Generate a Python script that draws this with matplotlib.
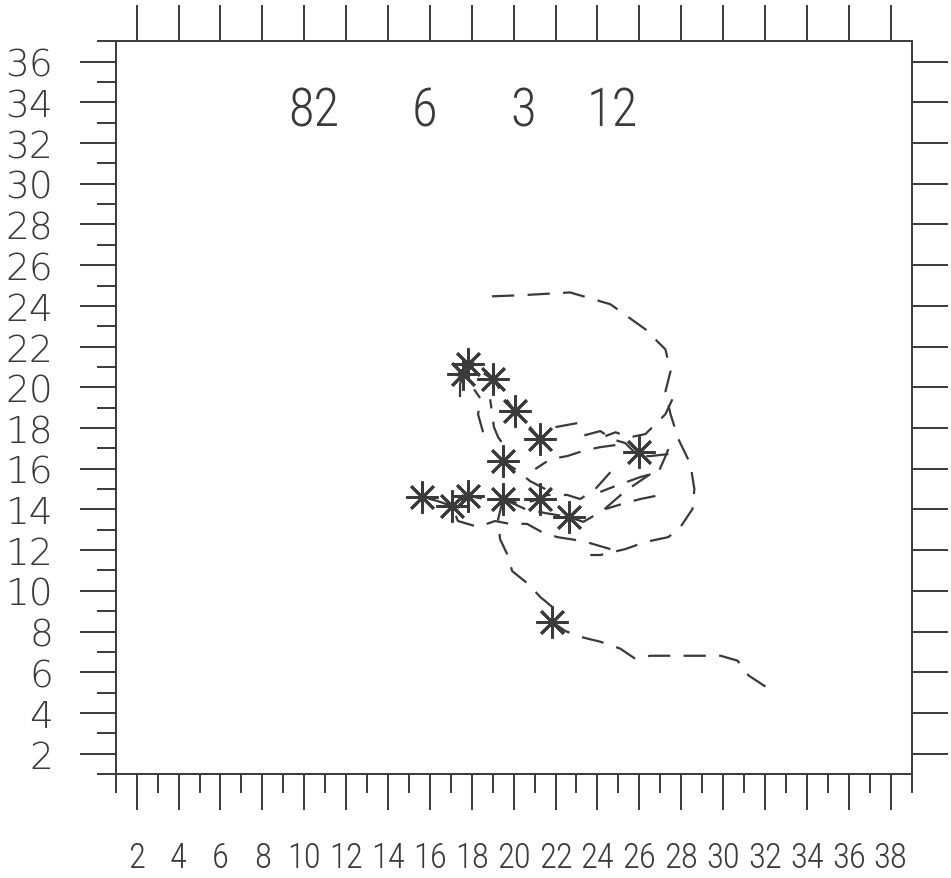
import matplotlib
matplotlib.use("Agg")
import matplotlib.pyplot as plt

# asterisk positions
ast_x = [17.84, 17.60, 19.03, 20.07, 21.27, 19.51, 25.97, 15.61, 17.04, 17.84, 19.51, 21.27, 22.62, 21.83]
ast_y = [21.13, 20.64, 20.39, 18.84, 17.45, 16.39, 16.80, 14.59, 14.18, 14.67, 14.51, 14.51, 13.61, 8.46]

# tracks
track1_x = [18.97, 20.31, 22.70, 24.62, 26.29, 27.25, 27.49, 27.25, 27.49, 27.87, 28.44, 28.63, 28.54, 27.97, 27.39, 26.29, 25.33, 24.14, 23.66]
track1_y = [24.47, 24.52, 24.66, 24.08, 22.85, 21.86, 20.78, 19.80, 18.68, 17.45, 16.23, 15.00, 14.02, 13.14, 12.64, 12.40, 12.05, 11.76, 11.76]

track2_x = [19.50, 19.26, 19.35, 19.69, 19.93, 20.69, 21.27, 21.84, 21.84, 22.46, 23.18, 24.14, 25.09, 25.81, 26.53, 27.49, 28.92, 29.88, 30.69, 31.22, 32.18]
track2_y = [14.51, 13.53, 12.54, 11.81, 10.97, 10.34, 9.70, 9.21, 8.47, 8.03, 7.74, 7.50, 7.16, 6.66, 6.81, 6.81, 6.81, 6.81, 6.57, 5.84, 5.19]

track3_x = [24.62, 23.90, 23.18, 22.56, 21.60, 21.27, 20.31, 19.50, 18.64, 17.84, 17.05, 16.34, 15.62]
track3_y = [15.83, 15.00, 14.51, 14.71, 14.71, 14.51, 14.27, 14.51, 14.51, 14.66, 14.17, 14.42, 14.61]

track4_x = [26.53, 25.33, 24.23, 23.33, 22.62, 21.51, 20.55, 19.50]
track4_y = [15.74, 14.90, 13.92, 13.39, 13.63, 13.82, 14.02, 14.51]

track5_x = [24.62, 23.33, 22.08, 21.27, 20.64, 19.83, 19.11, 18.30, 17.34, 17.05]
track5_y = [12.05, 12.44, 12.64, 12.93, 13.29, 13.29, 13.43, 13.14, 13.43, 14.17]

track6_x = [27.39, 26.53, 25.96, 25.33, 24.71, 24.14, 23.42, 23.04, 22.03, 21.27, 20.79, 20.07, 19.59, 19.02, 18.40, 17.84]
track6_y = [16.72, 16.62, 16.62, 17.26, 17.45, 17.85, 17.65, 18.24, 18.05, 17.45, 18.04, 18.82, 19.51, 20.39, 20.79, 21.13]

track7_x = [21.51, 20.79, 20.07, 19.50, 19.59, 19.26, 19.06, 18.97, 18.88]
track7_y = [15.00, 15.39, 15.98, 16.37, 17.06, 17.55, 18.04, 18.73, 19.41]

track8_x = [17.44, 17.44, 17.58, 17.84]
track8_y = [19.52, 20.15, 20.64, 21.13]

track9_x = [18.54, 18.30, 18.44, 18.11]
track9_y = [17.79, 18.68, 19.41, 19.90]

track10_x = [27.58, 27.25, 26.87, 26.29, 25.57, 24.86, 24.38]
track10_y = [19.41, 18.68, 18.29, 17.70, 17.55, 17.79, 17.60]

track11_x = [27.39, 27.15, 26.91, 26.05, 24.86, 24.14]
track11_y = [16.96, 16.37, 15.83, 15.59, 15.15, 14.86]

track12_x = [26.77, 26.05, 25.19, 24.38]
track12_y = [14.66, 14.51, 14.27, 14.02]

track13_x = [24.86, 24.14, 23.42, 22.56, 21.75, 21.03]
track13_y = [17.16, 17.06, 16.91, 16.62, 16.47, 15.98]

# counts printed at the top
count_labels = ["82", "6", "3", "12"]
count_x = [10.45, 15.76, 20.45, 24.7]
count_y = 33.6

ink = "#3a3a3a"
narrow = ["Roboto Condensed", "Open Sans Condensed", "Liberation Sans Narrow",
          "DejaVu Sans Condensed", "DejaVu Sans"]

fig = plt.figure(figsize=(9.51, 8.79), dpi=100)
ax = fig.add_axes([0.1217, 0.1183, 0.8368, 0.8336])

tracks = [(track1_x, track1_y), (track2_x, track2_y), (track3_x, track3_y),
          (track4_x, track4_y), (track5_x, track5_y), (track6_x, track6_y),
          (track7_x, track7_y), (track8_x, track8_y), (track9_x, track9_y),
          (track10_x, track10_y), (track11_x, track11_y), (track12_x, track12_y),
          (track13_x, track13_y)]
for tx, ty in tracks:
    ax.plot(tx, ty, color=ink, lw=1.6, linestyle=(0, (10, 6)))

ax.plot(ast_x, ast_y, linestyle="none", marker=(8, 2, 0), markersize=23,
        markeredgewidth=2.0, color=ink)

for lbl, cx in zip(count_labels, count_x):
    ax.text(cx, count_y, lbl, ha="center", va="center", fontsize=38,
            family=narrow, stretch="condensed", weight="light", color=ink)

ax.set_xlim(1, 39)
ax.set_ylim(1, 37)

ax.set_xticks(range(2, 39, 2))
ax.set_xticks(range(1, 40, 2), minor=True)
ax.set_yticks(range(2, 37, 2))
ax.set_yticks(range(1, 38, 2), minor=True)

ax.tick_params(axis="both", which="major", direction="out", length=26, width=1.4, color=ink)
ax.tick_params(axis="both", which="minor", direction="out", length=13.5, width=1.4, color=ink)
ax.tick_params(axis="x", which="major", top=True, labeltop=False, pad=22, labelsize=25, labelcolor=ink)
ax.tick_params(axis="x", which="minor", top=False)
ax.tick_params(axis="y", which="major", right=True, labelright=False, pad=19, labelsize=27, labelcolor=ink)
ax.tick_params(axis="y", which="minor", right=False)

for lbl in ax.get_xticklabels():
    lbl.set_family(narrow)
    lbl.set_stretch("condensed")
    lbl.set_weight("light")
for lbl in ax.get_yticklabels():
    lbl.set_weight("light")

for s in ax.spines.values():
    s.set_linewidth(1.4)
    s.set_color(ink)

fig.savefig("out.png", dpi=100)
